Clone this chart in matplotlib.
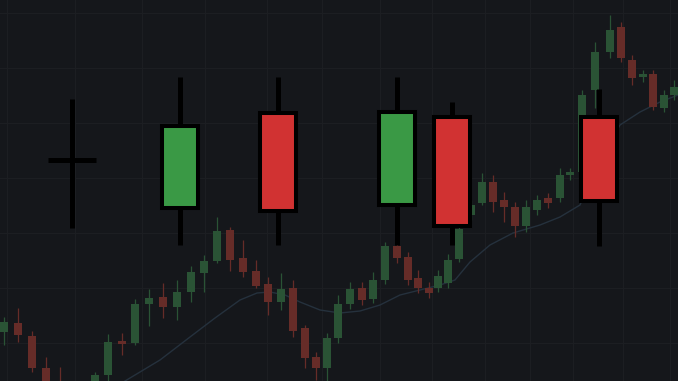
import numpy as np
import matplotlib
matplotlib.use("Agg")
import matplotlib.pyplot as plt
from matplotlib.patches import Rectangle

# === background candles (faint chart behind) ===
bg_t = [4, 18, 32, 46, 60, 95, 108, 122, 135, 149, 163, 177, 191, 204, 217,
        230, 243, 256, 268, 281, 293, 305, 316, 327, 338, 350, 362, 373, 385,
        397, 408, 418, 429, 438, 448, 459, 471, 482, 493, 504, 515, 526, 537,
        548, 560, 570, 582, 595, 610, 621, 632, 643, 653, 664, 674]
bg_open = [49, 58, 45, 13, -4, -11, 6, 40, 38, 77, 84, 74, 89, 108, 120,
           151, 123, 110, 97, 79, 93, 53, 24, 13, 43, 77, 93, 82, 101,
           135, 124, 103, 93, 93, 98, 122, 166, 178, 199, 181, 174, 155, 171,
           183, 183, 206, 209, 291, 329, 354, 321, 304, 307, 273, 286]
bg_close = [59, 46, 13, -14, -19, 6, 39, 37, 77, 83, 74, 89, 109, 120, 150,
            121, 109, 95, 79, 92, 50, 23, 13, 43, 77, 92, 81, 101, 135,
            123, 101, 93, 88, 105, 121, 152, 176, 199, 179, 174, 155, 174, 181,
            178, 206, 209, 286, 329, 351, 323, 303, 307, 274, 286, 294]
bg_high = [64, 73, 50, 24, 14, 9, 47, 48, 82, 92, 98, 101, 115, 126, 164,
           154, 141, 121, 104, 108, 101, 56, 29, 48, 86, 99, 99, 109, 139,
           141, 129, 111, 99, 111, 127, 159, 181, 208, 206, 189, 179, 181, 186,
           188, 213, 213, 291, 339, 366, 359, 326, 311, 311, 291, 301]
bg_low = [36, 39, 9, -19, -24, -14, -4, 26, 36, 55, 63, 61, 79, 89, 118,
          110, 104, 93, 66, 71, 44, 13, 1, 0, 38, 72, 76, 78, 97,
          118, 96, 88, 83, 89, 93, 119, 161, 176, 169, 159, 144, 149, 166,
          173, 179, 201, 205, 273, 323, 319, 296, 299, 271, 269, 281]

# moving average line
ma_t = [125, 160, 190, 215, 240, 257, 270, 285, 300, 320, 340, 360, 380, 400,
        420, 440, 455, 470, 490, 513, 540, 560, 580, 600, 620, 640, 660, 678]
ma_val = [0, 21, 44, 63, 81, 88, 89, 86, 79, 71, 68, 70, 76, 86,
          91, 96, 101, 119, 136, 148, 156, 164, 176, 221, 256, 269, 279, 286]

# === big foreground candles ===
fg_t = [180, 278, 397, 452, 599]
fg_open = [173, 268, 176, 264, 264]
fg_close = [255, 170, 269, 155, 180]
fg_high = [304, 304, 304, 279, 292]
fg_low = [136, 136, 136, 136, 135]

# doji cross on the left
doji_t = 72
doji_level = 221
doji_high = 282
doji_low = 153

bg_color = "#15171b"
grid_color = "#1c1e22"
bg_up, bg_down = "#2a5335", "#662c28"
fg_up, fg_down = "#3a9945", "#d13232"

fig = plt.figure(figsize=(6.78, 3.81), dpi=100)
fig.patch.set_facecolor(bg_color)
ax = fig.add_axes([0, 0, 1, 1])
ax.set_facecolor(bg_color)
ax.set_xlim(0, 678)
ax.set_ylim(0, 381)

# faint grid
ax.set_xticks([7, 75, 142, 205, 267, 322, 380, 432, 485, 530, 573, 623, 670])
ax.set_yticks([38, 93, 148, 203, 258, 313, 368])
ax.grid(True, color=grid_color, linewidth=0.8)
ax.tick_params(length=0, labelbottom=False, labelleft=False)
for s in ax.spines.values():
    s.set_visible(False)

# moving average
ax.plot(ma_t, ma_val, color="#25313d", linewidth=1.0, zorder=2)

# background candles
for t, o, c, h, l in zip(bg_t, bg_open, bg_close, bg_high, bg_low):
    col = bg_up if c >= o else bg_down
    ax.vlines(t, l, h, color=col, linewidth=0.9, zorder=3)
    ax.add_patch(Rectangle((t - 4, min(o, c)), 8, max(abs(c - o), 1.5),
                           facecolor=col, edgecolor="none", zorder=3))

# foreground candles
for t, o, c, h, l in zip(fg_t, fg_open, fg_close, fg_high, fg_low):
    col = fg_up if c >= o else fg_down
    ax.vlines(t, l, h, color="black", linewidth=3.6, zorder=5)
    ax.add_patch(Rectangle((t - 18, min(o, c)), 36, abs(c - o),
                           facecolor=col, edgecolor="black", linewidth=2.9,
                           zorder=6))

ax.vlines(doji_t, doji_low, doji_high, color="black", linewidth=3.6, zorder=5)
ax.hlines(doji_level, doji_t - 24, doji_t + 24, color="black", linewidth=3.6, zorder=5)

fig.savefig("out.png", dpi=100, facecolor=bg_color)
